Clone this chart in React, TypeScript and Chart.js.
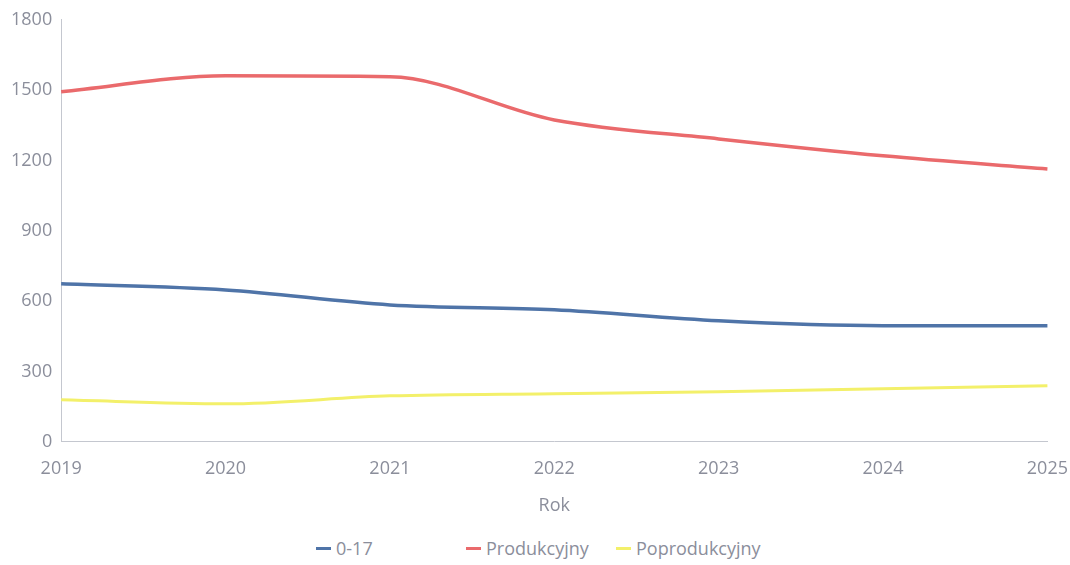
import React, { useEffect, useRef } from "react";
import { Chart, registerables } from "chart.js";

Chart.register(...registerables);

const years = ["2019", "2020", "2021", "2022", "2023", "2024", "2025"];
const youth = [674, 648, 584, 563, 516, 495, 495];
const working = [1493, 1561, 1557, 1373, 1292, 1220, 1164];
const retired = [179, 162, 196, 205, 213, 226, 239];
const yTicks = [0, 300, 600, 900, 1200, 1500, 1800];

const seriesNames = ["0-17", "Produkcyjny", "Poprodukcyjny"];
const seriesColors = ["#4f74a8", "#ea6a6c", "#f3f06a"];

const FONT = "'Open Sans', 'Noto Sans', sans-serif";
const GRAY = "#8b8e9b";

export default function App() {
  const ref = useRef<HTMLCanvasElement>(null);
  useEffect(() => {
    if (!ref.current) return;
    const values = [youth, working, retired];
    const chart = new Chart(ref.current, {
      type: "line",
      data: {
        labels: years,
        datasets: seriesNames.map((name, i) => ({
          label: name,
          data: values[i],
          borderColor: seriesColors[i],
          backgroundColor: seriesColors[i],
          borderWidth: i === 2 ? 3 : 3.5,
          pointRadius: 0,
          cubicInterpolationMode: "monotone" as const,
        })),
      },
      options: {
        animation: false,
        responsive: false,
        maintainAspectRatio: false,
        layout: { padding: { left: 2, right: 0, top: 3, bottom: 7 } },
        scales: {
          x: {
            offset: false,
            grid: { display: false, drawTicks: false },
            border: { display: true, color: "#c4c7cf", dash: [2, 2], width: 1 },
            ticks: { color: GRAY, font: { family: FONT, size: 18 }, padding: 16, maxRotation: 0 },
            title: { display: true, text: "Rok", color: GRAY, font: { family: FONT, size: 18 }, padding: { top: 0, bottom: 0 } },
          },
          y: {
            min: 0,
            max: 1800,
            afterBuildTicks: (axis: any) => {
              axis.ticks = yTicks.map((v) => ({ value: v }));
            },
            grid: { display: false, drawTicks: false },
            border: { display: true, color: "#c4c7cf", dash: [2, 2], width: 1 },
            ticks: {
              color: GRAY,
              font: { family: FONT, size: 18 },
              padding: 9,
              callback: (v: any) => String(v),
            },
          },
        },
        plugins: {
          legend: { display: false },
          tooltip: { enabled: false },
        },
      },
    });
    return () => chart.destroy();
  }, []);
  return (
    <div style={{ position: "absolute", left: 0, top: 0, width: 1070, height: 565, background: "#fff", fontFamily: FONT, overflow: "hidden" }}>
      <canvas ref={ref} width={1084} height={524} style={{ display: "block" }} />
      <div style={{ width: 1070, display: "flex", justifyContent: "center", marginTop: 12, paddingLeft: 12, boxSizing: "border-box" }}>
        {seriesNames.map((name, i) => (
          <div key={name} style={{ width: 150, display: "flex", alignItems: "center", color: GRAY, fontSize: 18 }}>
            <span style={{ display: "inline-block", width: 15, height: 3, background: seriesColors[i], marginRight: 5 }} />
            <span>{name}</span>
          </div>
        ))}
      </div>
    </div>
  );
}
